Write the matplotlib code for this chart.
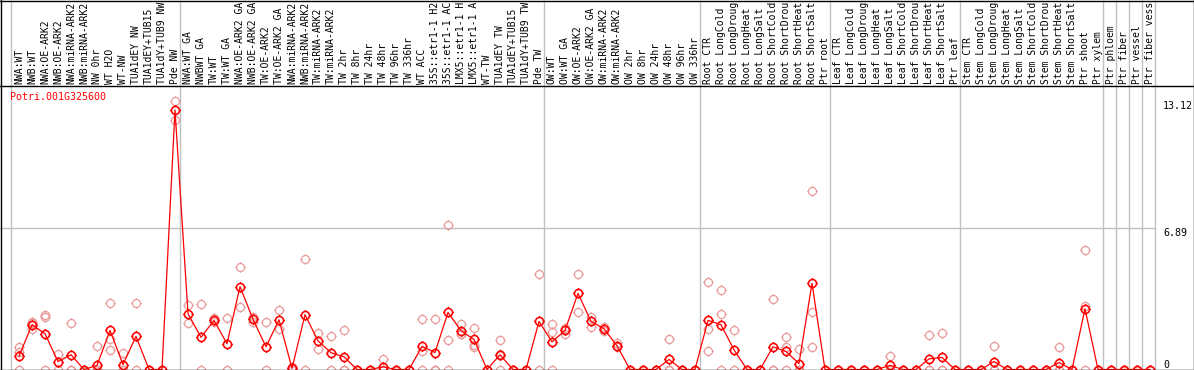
import numpy as np
import matplotlib
matplotlib.use("Agg")
import matplotlib.pyplot as plt
from matplotlib.path import Path
from matplotlib.lines import Line2D
from matplotlib.transforms import blended_transform_factory

gene = "Potri.001G325600"

# sample names as far as they show in the header
samples = [
    "NWA:WT", "NWB:WT", "NWA:OE-ARK2", "NWB:OE-ARK2", "NWA:miRNA-ARK2",
    "NWB:miRNA-ARK2", "NW 0hr", "WT H2O", "WT-NW", "TUA1dEY NW",
    "TUA1dEY+TUB15", "TUA1dY+TUB9 NW", "Pde NW",
    "NWA:WT GA", "NWBWT GA", "TW:WT", "TW:WT GA", "NWA:OE-ARK2 GA",
    "NWB:OE-ARK2 GA", "TW:OE-ARK2", "TW:OE-ARK2 GA", "NWA:miRNA-ARK2",
    "NWB:miRNA-ARK2", "TW:miRNA-ARK2", "TW:miRNA-ARK2", "TW 2hr", "TW 8hr",
    "TW 24hr", "TW 48hr", "TW 96hr", "TW 336hr", "WT ACC",
    "35S::etr1-1 H2", "35S::etr1-1 AC", "LMX5::etr1-1 H", "LMX5::etr1-1 A",
    "WT-TW", "TUA1dEY TW", "TUA1dEY+TUB15", "TUA1dY+TUB9 TW", "Pde TW",
    "OW:WT", "OW:WT GA", "OW:OE-ARK2", "OW:OE-ARK2 GA", "OW:miRNA-ARK2",
    "OW:miRNA-ARK2", "OW 2hr", "OW 8hr", "OW 24hr", "OW 48hr", "OW 96hr",
    "OW 336hr",
    "Root CTR", "Root LongCold", "Root LongDroug", "Root LongHeat",
    "Root LongSalt", "Root ShortCold", "Root ShortDrou", "Root ShortHeat",
    "Root ShortSalt", "Ptr root",
    "Leaf CTR", "Leaf LongCold", "Leaf LongDroug", "Leaf LongHeat",
    "Leaf LongSalt", "Leaf ShortCold", "Leaf ShortDrou", "Leaf ShortHeat",
    "Leaf ShortSalt", "Ptr leaf",
    "Stem CTR", "Stem LongCold", "Stem LongDroug", "Stem LongHeat",
    "Stem LongSalt", "Stem ShortCold", "Stem ShortDrou", "Stem ShortHeat",
    "Stem ShortSalt", "Ptr shoot", "Ptr xylem",
    "Ptr phloem", "Ptr fiber", "Ptr vessel", "Ptr fiber vess",
]
group_sizes = [13, 28, 12, 10, 10, 11, 1, 1, 1, 1]

means = [
    0.65, 2.19, 1.75, 0.39, 0.72, 0, 0.2, 1.91, 0.24, 1.62,
    0, 0, 12.68, 2.73, 1.57, 2.4, 1.26, 4.05, 2.45, 1.11,
    2.43, 0.05, 2.68, 1.4, 0.82, 0.62, 0, 0, 0.13, 0,
    0, 1.13, 0.83, 2.79, 1.89, 1.47, 0, 0.72, 0, 0,
    2.35, 1.35, 1.91, 3.72, 2.35, 1.99, 1.16, 0, 0, 0,
    0.49, 0, 0, 2.4, 2.19, 0.96, 0, 0, 1.11, 0.88,
    0.29, 4.21, 0, 0, 0, 0, 0, 0.2, 0, 0,
    0.52, 0.59, 0, 0, 0, 0.39, 0, 0, 0, 0,
    0.34, 0, 2.97, 0, 0, 0, 0, 0,
]

replicates = [
    [1.09, 0.85, 0], [2.3, 2.25, 2.0], [2.68, 2.56, 0], [0.77, 0], [2.27, 0, 0],
    [0, 0], [1.13, 0, 0, 0, 0], [3.27, 1.5, 0.93], [0.82, 0, 0], [3.27, 0],
    [0, 0], [0, 0], [13.12, 12.2], [3.13, 2.29], [3.18, 0],
    [2.5, 2.4, 2.3], [2.53, 0], [5.03, 3.07], [2.56, 2.33], [2.3, 0],
    [2.92, 1.97], [0.1, 0], [5.42, 0], [1.8, 1.01], [1.65, 0],
    [1.91, 0, 0], [0, 0], [0, 0], [0.49, 0, 0], [0, 0],
    [0, 0], [2.48, 0.88, 0], [2.48, 0, 0], [7.04, 1.42, 0], [2.24, 1.72, 1.72],
    [2.01, 1.18, 1.08], [0, 0], [1.45, 0.77, 0], [0, 0], [0, 0],
    [4.69, 0], [2.24, 1.83, 0], [2.05, 1.95, 1.75], [4.65, 2.83], [2.56, 2.07],
    [2.1, 1.9], [1.29, 1.1], [0, 0], [0, 0], [0, 0],
    [1.5, 0, 0], [0, 0], [0, 0], [4.29, 1.99, 0.88], [3.9, 2.73, 0],
    [1.94, 0], [0, 0], [0, 0], [3.46, 0, 0], [1.6, 1.09, 0],
    [0.99, 0, 0], [8.72, 2.79, 1.08], [0, 0], [0, 0], [0, 0],
    [0, 0], [0, 0], [0.64, 0, 0], [0, 0], [0, 0],
    [1.71, 0, 0], [1.8, 0, 0], [0, 0], [0, 0], [0, 0],
    [1.16, 0, 0], [0, 0], [0, 0], [0, 0], [0, 0],
    [1.11, 0, 0], [0, 0], [5.86, 3.09, 0], [0, 0], [0, 0],
    [0, 0], [0, 0], [0, 0],
]

y_labels = [13.12, 6.89, 0]

W, H = 1194, 370
MONO = "DejaVu Sans Mono"
GRAY = "#c0c0c0"

fig = plt.figure(figsize=(W / 100, H / 100), dpi=100)
fig.patch.set_facecolor("white")

# plot area: 0..1156 px wide, rows 85..369
ax = fig.add_axes([0, 0.5 / H, 1156 / W, 284.5 / H])
x = np.arange(1, len(samples) + 1)
ax.set_xlim(1 - 19 / 13, 1 + 1137 / 13)
ax.set_ylim(0, 13.9)
ax.axis("off")

# ring marker with little ticks (polygon circle, not bezier)
t = np.linspace(0, 2 * np.pi, 33)
verts = list(zip(np.cos(t), np.sin(t)))
codes = [Path.MOVETO] + [Path.LINETO] * (len(t) - 1)
for a, b in [((0, 1), (0, 1.3)), ((0, -1), (0, -1.3)), ((1, 0), (1.3, 0)), ((-1, 0), (-1.3, 0))]:
    verts += [a, b]
    codes += [Path.MOVETO, Path.LINETO]
ring = Path(verts, codes)

ax.axhline(y_labels[1], color=GRAY, lw=1.0, zorder=0)

xfig = blended_transform_factory(ax.transData, fig.transFigure)
bounds = np.cumsum([0] + group_sizes) + 0.38
ax.vlines(bounds, 0.5 / H, 1, transform=xfig, color=GRAY, lw=1.0, zorder=0, clip_on=False)

for xi, reps in zip(x, replicates):
    ax.plot([xi] * len(reps), reps, ls="none", marker=ring, ms=7.5, mfc="none",
            mec="#e99a9a", mew=0.9, clip_on=False, zorder=2)

ax.plot(x, means, color="red", lw=0.9, marker=ring, ms=7.5, mfc="none",
        mec="red", mew=1.15, clip_on=False, zorder=3)

# sample names in the header
for xi, name in zip(x, samples):
    ax.text(xi, 1 - 84 / H, name, transform=xfig, rotation=90, ha="center",
            va="bottom", fontsize=7.0, family=MONO)

fig.text(10 / W, 1 - 97 / H, gene, color="red", ha="left", va="center",
         fontsize=7.2, family=MONO)

yfig = blended_transform_factory(fig.transFigure, ax.transData)
for v in y_labels:
    ax.text(1163 / W, v, f"{v:g}", transform=yfig, ha="left",
            va="bottom" if v == 0 else "top", fontsize=7.2, family=MONO)

# frame and header separator
for xs, ys in [([0, 1], [1 - 0.5 / H] * 2), ([0, 1], [1 - 85.5 / H] * 2),
               ([0, 1], [0.5 / H] * 2), ([0.5 / W] * 2, [0, 1]),
               ([1 - 0.5 / W] * 2, [0, 1])]:
    fig.add_artist(Line2D(xs, ys, transform=fig.transFigure, color="black", lw=1.0))

fig.savefig("out.png", dpi=100)
